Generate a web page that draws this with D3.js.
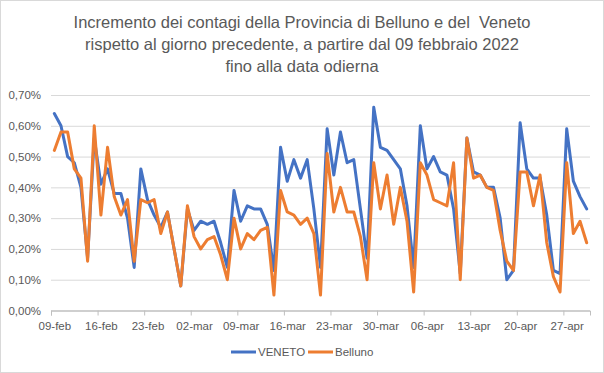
<!DOCTYPE html>
<html>
<head>
<meta charset="utf-8">
<script src="https://cdn.jsdelivr.net/npm/d3@7"></script>
<style>
  body { margin: 0; background: #fff; }
  text { font-family: "Liberation Sans", Arial, sans-serif; fill: #595959; }
</style>
</head>
<body>
<div id="vis"></div>
<script>
// daily increase (%) from 09 Feb 2022, one value per day
const startDate = new Date(2022, 1, 9)
const veneto = [0.64, 0.60, 0.50, 0.48, 0.40, 0.17, 0.56, 0.41, 0.46, 0.38,
  0.38, 0.30, 0.14, 0.46, 0.36, 0.31, 0.27, 0.32, 0.20, 0.08,
  0.33, 0.26, 0.29, 0.28, 0.29, 0.22, 0.14, 0.39, 0.29, 0.34,
  0.33, 0.33, 0.28, 0.13, 0.53, 0.42, 0.49, 0.43, 0.49, 0.33,
  0.14, 0.59, 0.44, 0.58, 0.48, 0.49, 0.33, 0.17, 0.66, 0.53,
  0.52, 0.49, 0.46, 0.34, 0.14, 0.60, 0.46, 0.50, 0.45, 0.44,
  0.33, 0.12, 0.56, 0.45, 0.44, 0.40, 0.40, 0.30, 0.10, 0.13,
  0.61, 0.46, 0.43, 0.43, 0.31, 0.13, 0.12, 0.59, 0.42, 0.37, 0.33]
const belluno = [0.52, 0.58, 0.58, 0.46, 0.43, 0.16, 0.60, 0.31, 0.53, 0.37,
  0.31, 0.36, 0.16, 0.36, 0.35, 0.36, 0.25, 0.32, 0.20, 0.08,
  0.34, 0.24, 0.20, 0.23, 0.24, 0.18, 0.10, 0.30, 0.20, 0.25,
  0.23, 0.26, 0.27, 0.05, 0.39, 0.32, 0.31, 0.28, 0.30, 0.25,
  0.05, 0.51, 0.32, 0.40, 0.32, 0.32, 0.24, 0.10, 0.48, 0.33,
  0.44, 0.28, 0.40, 0.29, 0.06, 0.48, 0.44, 0.36, 0.35, 0.34,
  0.48, 0.10, 0.56, 0.43, 0.44, 0.40, 0.39, 0.26, 0.16, 0.13,
  0.45, 0.45, 0.34, 0.44, 0.22, 0.11, 0.06, 0.48, 0.25, 0.29, 0.22]
const yTicks = [0, 0.1, 0.2, 0.3, 0.4, 0.5, 0.6, 0.7]
const seriesNames = ["VENETO", "Belluno"]
const colors = ["#4472C4", "#ED7D31"]
const titleLines = [
  "Incremento dei contagi della Provincia di Belluno e del  Veneto",
  "rispetto al giorno precedente, a partire dal 09 febbraio 2022",
  "fino alla data odierna"
]

const W = 604, H = 373
const plot = { left: 51, right: 590, top: 95, bottom: 310.5 }

const it = d3.timeFormatLocale({
  dateTime: "%A %e %B %Y, %X", date: "%d/%m/%Y", time: "%H:%M:%S",
  periods: ["", ""],
  days: ["domenica", "lunedì", "martedì", "mercoledì", "giovedì", "venerdì", "sabato"],
  shortDays: ["dom", "lun", "mar", "mer", "gio", "ven", "sab"],
  months: ["gennaio", "febbraio", "marzo", "aprile", "maggio", "giugno", "luglio", "agosto", "settembre", "ottobre", "novembre", "dicembre"],
  shortMonths: ["gen", "feb", "mar", "apr", "mag", "giu", "lug", "ago", "set", "ott", "nov", "dic"]
})
const itNum = d3.formatLocale({ decimal: ",", thousands: ".", grouping: [3], currency: ["€", ""] })
const fmtPct = d => itNum.format(".2f")(d) + "%"

const dates = veneto.map((v, i) => d3.timeDay.offset(startDate, i))
const endDate = d3.timeDay.offset(startDate, veneto.length)

const x = d3.scaleTime().domain([startDate, endDate]).range([plot.left, plot.right])
const y = d3.scaleLinear().domain([0, 0.7]).range([plot.bottom, plot.top])
const dayW = x(d3.timeDay.offset(startDate, 1)) - x(startDate)
// Excel puts each point in the middle of its day
const xc = d => x(d) + dayW / 2

const svg = d3.select("#vis").append("svg")
  .attr("width", W).attr("height", H)

svg.append("rect")
  .attr("x", 0.5).attr("y", 0.5)
  .attr("width", W - 1).attr("height", H - 1)
  .attr("fill", "#fff").attr("stroke", "#d9d9d9")

// title (keep the double space of the original)
svg.append("g").selectAll("text")
  .data(titleLines)
  .join("text")
  .attr("x", W / 2)
  .attr("y", (d, i) => 28 + i * 22)
  .attr("text-anchor", "middle")
  .style("font-size", "16.5px")
  .style("white-space", "pre")
  .text(d => d)

// y axis with grid
const yAxis = svg.append("g")
  .attr("transform", `translate(${plot.left},0)`)
  .call(d3.axisLeft(y).tickValues(yTicks).tickFormat(fmtPct)
    .tickSize(-(plot.right - plot.left)).tickPadding(10))
yAxis.select(".domain").remove()
yAxis.selectAll(".tick line").attr("stroke", "#d9d9d9")
yAxis.selectAll(".tick").filter(d => d === 0).select("line").attr("stroke", "#bfbfbf")
yAxis.selectAll("text").style("font-size", "11.5px").attr("fill", "#595959")

// x axis: ticks every week starting on Wednesday 09 Feb
const weekTicks = d3.timeWednesday.range(startDate, endDate)
const xAxis = svg.append("g")
  .attr("transform", `translate(0,${plot.bottom})`)
  .call(d3.axisBottom(x).tickValues(weekTicks).tickFormat(it.format("%d-%b"))
    .tickSize(5).tickPadding(6))
xAxis.select(".domain").attr("stroke", "#bfbfbf")
xAxis.selectAll(".tick line").attr("stroke", "#bfbfbf")
xAxis.selectAll("text")
  .attr("x", dayW / 2)
  .style("font-size", "11.5px").attr("fill", "#595959")

// lines
const series = [veneto, belluno]
const line = d3.line()
  .x((d, i) => xc(dates[i]))
  .y(d => y(d))

svg.append("g").selectAll("path")
  .data(series)
  .join("path")
  .attr("fill", "none")
  .attr("stroke", (d, i) => colors[i])
  .attr("stroke-width", 3)
  .attr("stroke-linejoin", "round")
  .attr("stroke-linecap", "round")
  .attr("d", line)

// legend
const legend = svg.append("g").attr("transform", "translate(231,352)")
const items = legend.selectAll("g")
  .data(seriesNames)
  .join("g")
  .attr("transform", (d, i) => `translate(${i * 77},0)`)
items.append("line")
  .attr("x1", 0).attr("x2", 25)
  .attr("stroke", (d, i) => colors[i])
  .attr("stroke-width", 3)
items.append("text")
  .attr("x", 27).attr("dy", "0.35em")
  .style("font-size", "11.5px")
  .text(d => d)
</script>
</body>
</html>
